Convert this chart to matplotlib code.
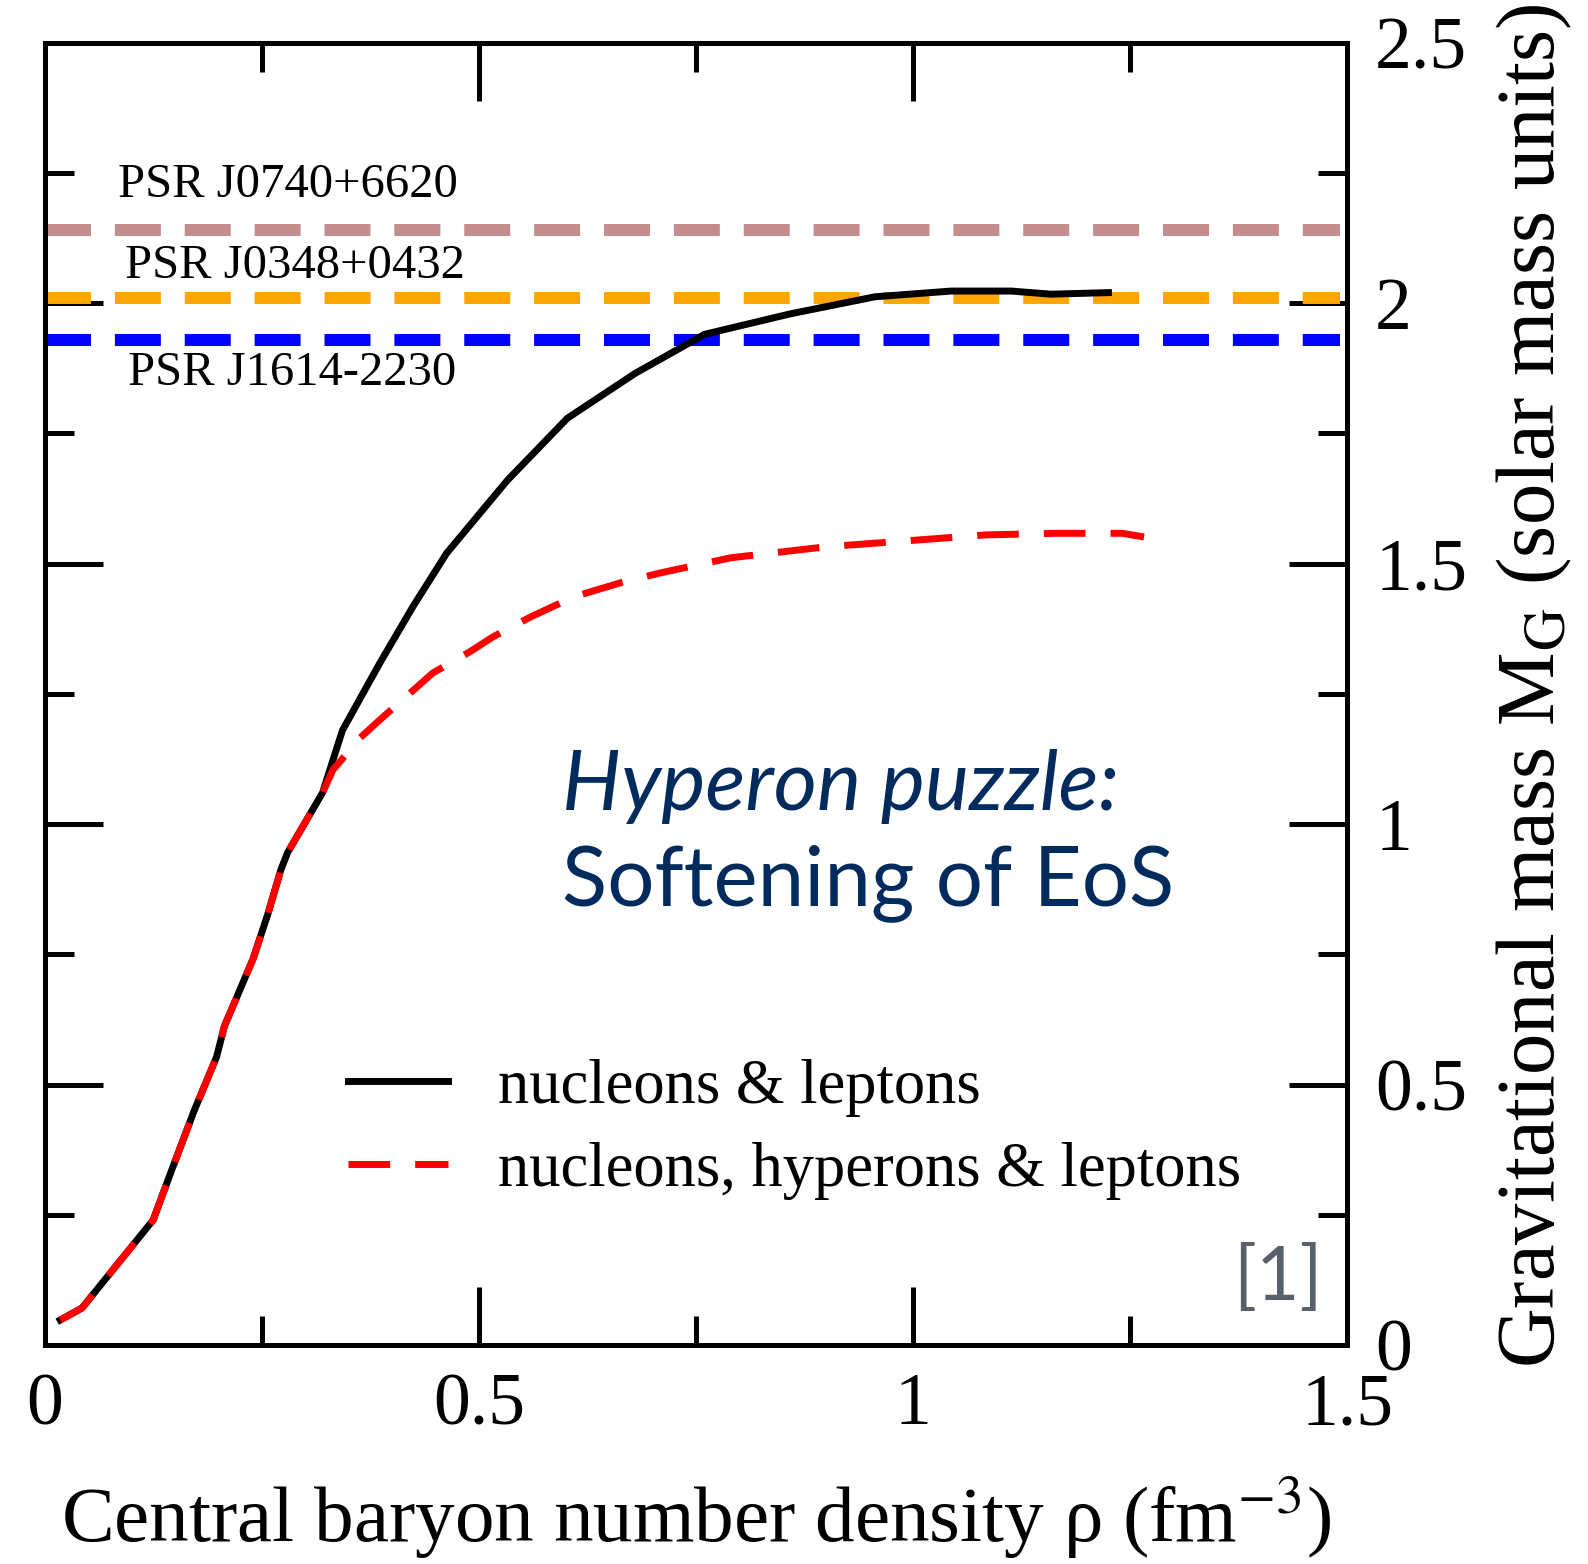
import numpy as np
import matplotlib
matplotlib.use('Agg')
import matplotlib.pyplot as plt
from matplotlib.ticker import MultipleLocator

plt.rcParams['font.family'] = ['Liberation Serif', 'DejaVu Serif']
plt.rcParams['mathtext.fontset'] = 'stix'

# central density (fm^-3) vs gravitational mass (M_sun)
rho_nl = [0.018, 0.043, 0.125, 0.143, 0.172, 0.198, 0.207, 0.240, 0.257, 0.272,
          0.280, 0.320, 0.343, 0.386, 0.424, 0.463, 0.533, 0.602, 0.680, 0.760,
          0.858, 0.956, 1.044, 1.113, 1.159, 1.225]
mass_nl = [0.048, 0.071, 0.240, 0.321, 0.449, 0.553, 0.612, 0.741, 0.827, 0.912,
           0.946, 1.060, 1.180, 1.309, 1.417, 1.520, 1.660, 1.779, 1.865, 1.940,
           1.979, 2.012, 2.023, 2.023, 2.017, 2.020]

rho_nhl = [0.018, 0.043, 0.125, 0.143, 0.172, 0.198, 0.207, 0.240, 0.257, 0.272,
           0.280, 0.320, 0.332, 0.363, 0.386, 0.447, 0.489, 0.516, 0.559, 0.609,
           0.663, 0.709, 0.790, 0.847, 0.899, 1.004, 1.084, 1.165, 1.241, 1.266]
mass_nhl = [0.048, 0.071, 0.240, 0.321, 0.449, 0.553, 0.612, 0.741, 0.827, 0.912,
            0.946, 1.060, 1.104, 1.165, 1.200, 1.290, 1.330, 1.359, 1.397, 1.436,
            1.463, 1.482, 1.511, 1.522, 1.532, 1.545, 1.555, 1.558, 1.558, 1.551]

# measured pulsar masses
psr_names = ['PSR J0740+6620', 'PSR J0348+0432', 'PSR J1614-2230']
psr_mass = [2.14, 2.01, 1.93]
psr_colors = ['#c48c8c', '#ffa500', '#0000ff']
psr_label_x = [0.085, 0.093, 0.096]
psr_label_y = [2.226, 2.071, 1.866]

fig = plt.figure(figsize=(15.88, 15.64), dpi=100)
ax = fig.add_axes([0.0281, 0.140, 0.8203, 0.8328])

for m, c in zip(psr_mass, psr_colors):
    ax.hlines(m, 0, 1.492, colors=c, linewidth=8.6, linestyles=(0, (3.85, 2.0)))
for name, x, y in zip(psr_names, psr_label_x, psr_label_y):
    ax.text(x, y, name, fontsize=35, ha='left', va='center')

ax.plot(rho_nl, mass_nl, '-', color='k', linewidth=5, label='nucleons & leptons')
ax.plot(rho_nhl, mass_nhl, '--', color='#ff0000', linewidth=5, dashes=(6, 3.6),
        label='nucleons, hyperons & leptons')

ax.set_xlim(0, 1.5)
ax.set_ylim(0, 2.5)
ax.xaxis.set_major_locator(MultipleLocator(0.5))
ax.xaxis.set_minor_locator(MultipleLocator(0.25))
ax.yaxis.set_major_locator(MultipleLocator(0.5))
ax.yaxis.set_minor_locator(MultipleLocator(0.25))
ax.xaxis.set_major_formatter(plt.FuncFormatter(lambda v, p: '%g' % v))
ax.yaxis.set_major_formatter(plt.FuncFormatter(lambda v, p: '%g' % v))

ax.tick_params(which='both', direction='in', top=True, bottom=True, left=True, right=True,
               labelleft=False, labelright=True, width=3.6, labelsize=53)
ax.tick_params(which='major', length=41.5, pad=20)
ax.tick_params(which='minor', length=21)
for s in ax.spines.values():
    s.set_linewidth(3.6)

ax.set_xlabel(r'Central baryon number density ρ (fm$^{\mathrm{-3}}$)', fontsize=57, labelpad=25)
ax.yaxis.set_label_position('right')
ax.set_ylabel(r'Gravitational mass M$_\mathrm{G}$ (solar mass units)', fontsize=59.5,
              rotation=90, labelpad=20)
ax.yaxis.label.set_y(0.506)

ax.legend(loc='center left', bbox_to_anchor=(0.2326, 0.1654), frameon=False, fontsize=45,
          handlelength=1.6, handletextpad=0.8, labelspacing=0.4, borderpad=0, borderaxespad=0)

ax.text(0.397, 0.411, 'Hyperon puzzle:', transform=ax.transAxes, style='italic',
        fontsize=60, color='#002b5c', family='Lato', ha='left', va='baseline')
ax.text(0.397, 0.338, 'Softening of EoS', transform=ax.transAxes,
        fontsize=60, color='#002b5c', family='Lato', ha='left', va='baseline')
ax.text(0.947, 0.0514, '[1]', transform=ax.transAxes, fontsize=54, color='#59606a',
        family='Lato', ha='center', va='center')

fig.savefig('out.png', dpi=100)
